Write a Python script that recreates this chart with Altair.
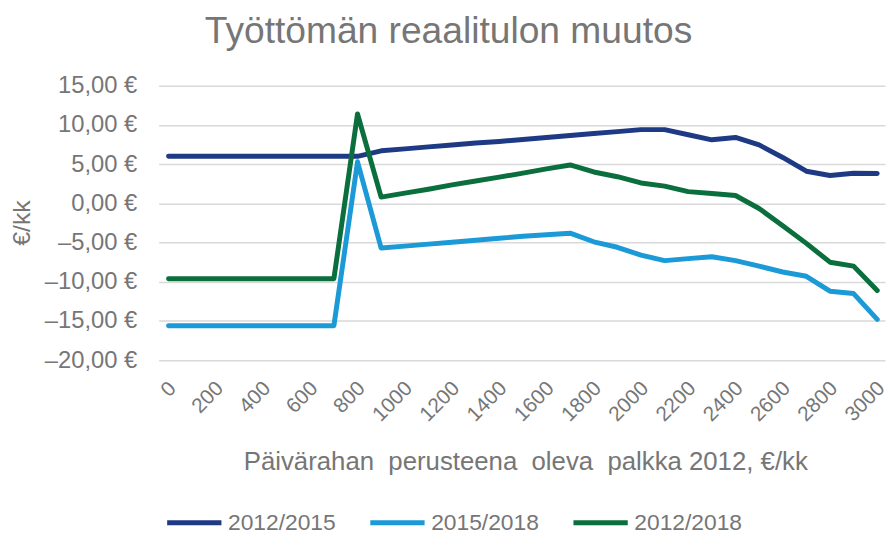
import altair as alt
import pandas as pd

salary = list(range(0, 3001, 100))

s_2012_2015 = [6.0, 6.0, 6.0, 6.0, 6.0, 6.0, 6.0, 6.0, 6.0,
               6.7, 6.95, 7.2, 7.45, 7.7, 7.9, 8.15, 8.4, 8.65, 8.9, 9.15,
               9.4, 9.4, 8.75, 8.1, 8.4, 7.45, 5.85, 4.1, 3.55, 3.85, 3.8]
s_2015_2018 = [-15.6, -15.6, -15.6, -15.6, -15.6, -15.6, -15.6, -15.6,
               5.3, -5.7, -5.45, -5.2, -4.95, -4.7, -4.45, -4.2, -4.0, -3.8,
               -4.9, -5.6, -6.6, -7.3, -7.05, -6.8, -7.3, -8.0, -8.75, -9.3,
               -11.2, -11.5, -14.8]
s_2012_2018 = [-9.6, -9.6, -9.6, -9.6, -9.6, -9.6, -9.6, -9.6,
               11.4, 0.8, 1.3, 1.8, 2.35, 2.85, 3.35, 3.85, 4.4, 4.9,
               4.0, 3.4, 2.6, 2.2, 1.5, 1.25, 1.0, -0.65, -2.85, -5.1,
               -7.5, -8.0, -11.1]

series_names = ["2012/2015", "2015/2018", "2012/2018"]
series_colors = ["#1F3A84", "#1B9AD7", "#0A6E3D"]
y_ticks = [-20, -15, -10, -5, 0, 5, 10, 15]
x_ticks = list(range(0, 3001, 200))

rows = []
for name, vals in zip(series_names, [s_2012_2015, s_2015_2018, s_2012_2018]):
    for x, v in zip(salary, vals):
        rows.append({"palkka": x, "muutos": v, "sarja": name})
df = pd.DataFrame(rows)

TXT = "#767676"
FONT = "Liberation Sans"

chart = alt.Chart(df).mark_line(
    strokeWidth=5, strokeCap="round", strokeJoin="round"
).encode(
    x=alt.X(
        "palkka:Q",
        scale=alt.Scale(domain=[-42, 3033], nice=False, zero=False),
        axis=alt.Axis(
            values=x_ticks,
            labelExpr="format(datum.value, 'd')",
            labelOverlap=False, labelFlush=False,
            title="Päivärahan\u00a0 perusteena\u00a0 oleva\u00a0 palkka 2012, €/kk",
            grid=False, domain=False, ticks=False, translate=4.5,
            labelAngle=-45, labelAlign="right", labelBaseline="middle",
            labelPadding=21, labelFontSize=21, labelColor=TXT, labelFont=FONT,
            titleFontSize=26, titleColor=TXT, titleFont=FONT, titleFontWeight="normal",
            titleX=366, titleY=106, titleAlign="center", titleBaseline="alphabetic",
        ),
    ),
    y=alt.Y(
        "muutos:Q",
        scale=alt.Scale(domain=[-20, 15], nice=False),
        axis=alt.Axis(
            values=y_ticks,
            labelExpr="(datum.value < 0 ? '–' : '') + replace(format(abs(datum.value), '.2f'), '.', ',') + ' €'",
            grid=True, gridColor="#D9D9D9", gridWidth=1.5,
            domain=False, ticks=False,
            labelPadding=22, labelFontSize=24, labelColor=TXT, labelFont=FONT,
            title="€/kk", titleFontSize=25, titleColor=TXT, titleFont=FONT, titleFontWeight="normal",
            titleX=-138, titleY=138, titleAngle=-90, titleAlign="center", titleBaseline="middle",
        ),
    ),
    color=alt.Color(
        "sarja:N",
        scale=alt.Scale(domain=series_names, range=series_colors),
        legend=alt.Legend(
            title=None, orient="none", legendX=6, legendY=411,
            direction="horizontal", symbolType="stroke", symbolStrokeWidth=5,
            symbolSize=3000, labelFontSize=23, labelColor=TXT, labelFont=FONT,
            columnPadding=24, labelOffset=4,
        ),
    ),
).properties(
    width=733,
    height=277,
    autosize=alt.AutoSizeParams(type="none"),
    padding={"left": 152, "top": 76, "right": 1, "bottom": 180},
    title=alt.TitleParams(
        "Työttömän reaalitulon muutos", fontSize=37.5, color=TXT, font=FONT,
        fontWeight="normal", anchor="middle", frame="group", dx=-74, offset=24,
    ),
).configure_view(stroke=None)

chart.save("out.html", embed_options={"renderer": "svg", "actions": False})
